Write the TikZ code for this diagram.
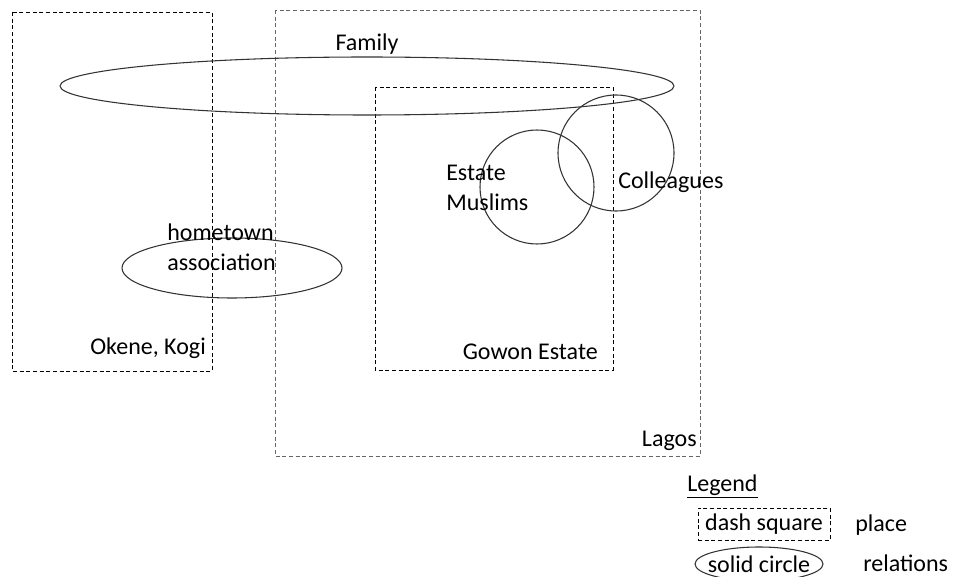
\documentclass[tikz,border=0pt]{standalone}
\usepackage{fontspec}
\setmainfont{Carlito}
\tikzset{
  place/.style={dash pattern=on 3pt off 2pt, line width=0.7pt},
  relation/.style={line width=0.8pt, black!80},
  label/.style={inner sep=0pt, font=\fontsize{18}{22.5}\selectfont, align=left}
}
\begin{document}
\begin{tikzpicture}[x=0.75pt, y=-0.75pt]
	\useasboundingbox (0,0) rectangle (953,577);
	% places
	\draw [place] (12,12) rectangle (212,371);
	\draw [place, black!60] (275,10) rectangle (700,456);
	\draw [place] (375,87) rectangle (613,370);
	% relations
	\draw [relation] (367,86) ellipse (307 and 29);
	\draw [relation] (232,268) ellipse (110 and 30);
	\draw [relation] (537,187) circle (57);
	\draw [relation] (616,153) circle (58);
	% texts
	\node [label] (family) at (367,44) {Family};
	\node [label, anchor=west] (muslims) at (446,188) {Estate\\Muslims};
	\node [label, anchor=west] (colleagues) at (618,182) {Colleagues};
	\node [label, anchor=west] (hometown) at (167,247) {hometown\\association};
	\node [label, anchor=east] (okene) at (206,348) {Okene, Kogi};
	\node [label, anchor=east] (gowon) at (598,352) {Gowon Estate};
	\node [label, anchor=east] (lagos) at (697,441) {Lagos};
	% legend
	\node [label, anchor=base west] (legend) at (687,491) {\underline{Legend}};
	\node [label, draw, place, minimum width=99pt, minimum height=24pt] (dashkey) at (764,524) {dash square};
	\node [label, anchor=base west] (placetext) at (855,531) {place};
	\node [label] (solidkey) at (759,564) {solid circle};
	\draw [relation] (solidkey.center) ellipse (64 and 17);
	\node [label, anchor=base west] (relationtext) at (863,571) {relations};
\end{tikzpicture}
\end{document}
